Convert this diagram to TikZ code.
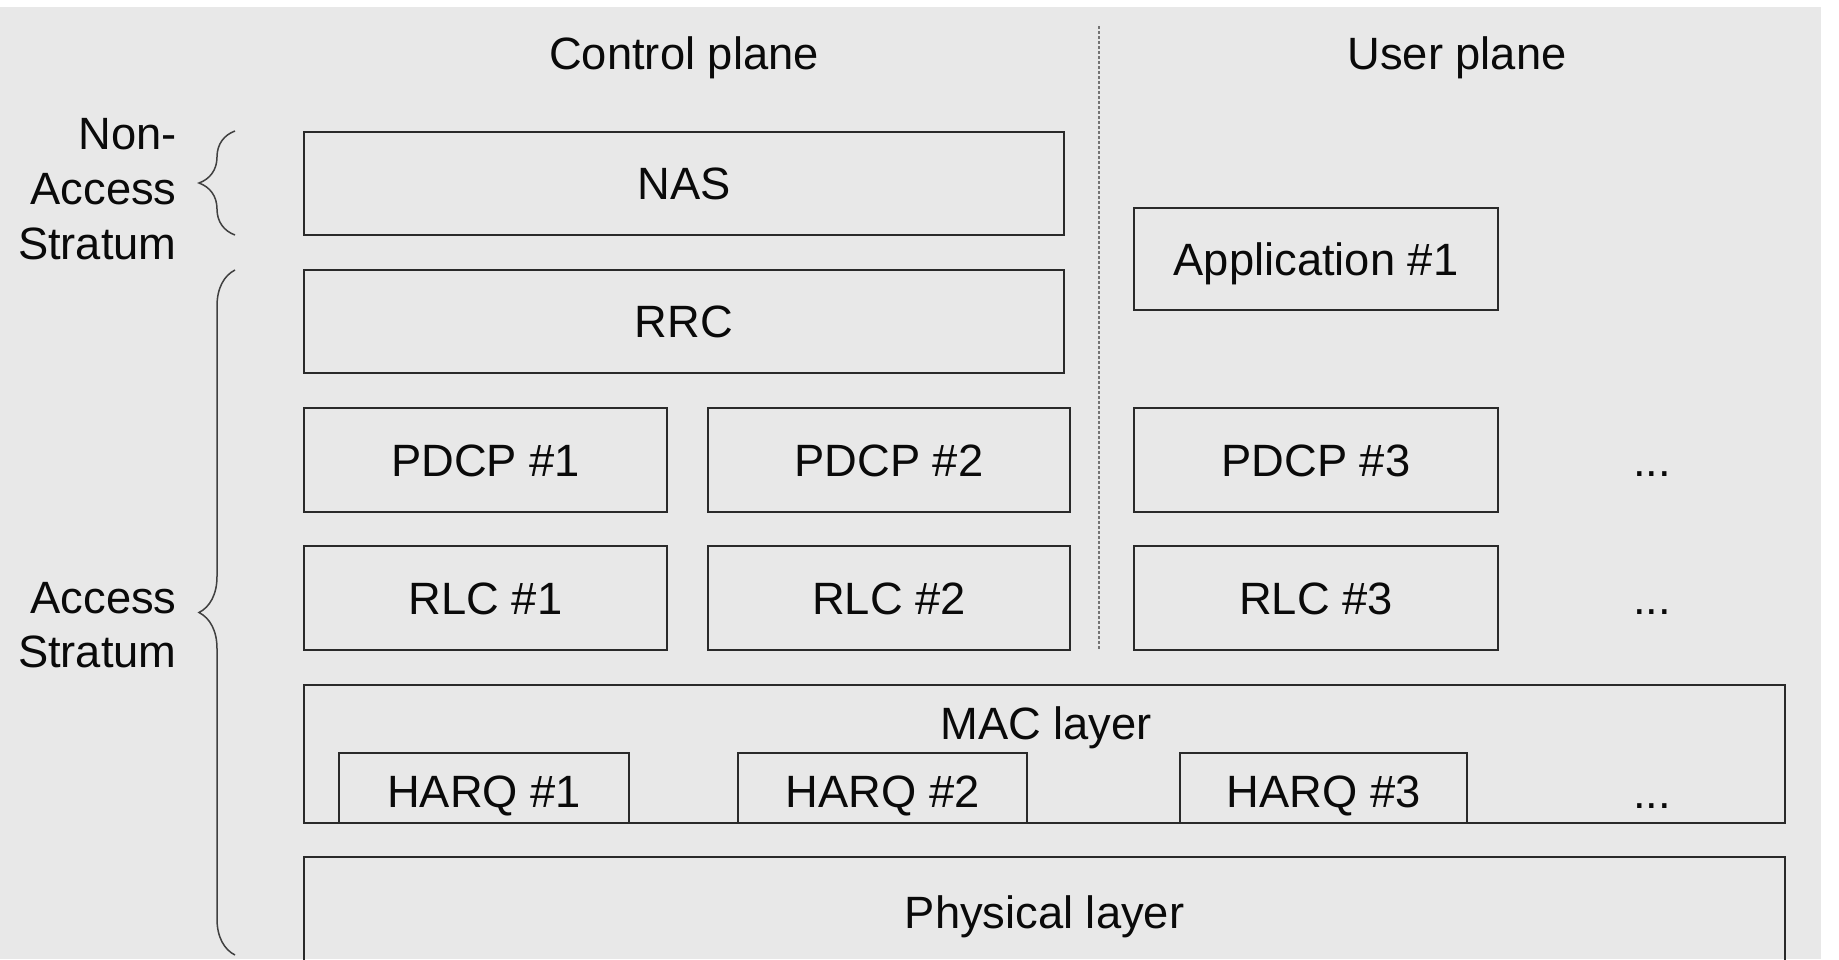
\documentclass[tikz,border=0pt]{standalone}
\usepackage{fontspec}
\setmainfont{Liberation Sans}
\usetikzlibrary{decorations.pathreplacing}
\newcommand\diafont{\fontsize{22.65}{27.5}\selectfont}
\definecolor{bggrey}{HTML}{E8E8E8}
\definecolor{linecol}{HTML}{2A2A2A}
\definecolor{txtcol}{HTML}{0A0A0A}
\begin{document}
\begin{tikzpicture}[x=0.5pt,y=-0.5pt,
  box/.style={draw=linecol, line width=1.1pt, inner sep=0pt, text height=16.2pt, text depth=0pt, font=\diafont, text=txtcol},
  harqbox/.style={box, text height=19.7pt},
  plain/.style={inner sep=0pt, text height=16.2pt, text depth=0pt, font=\diafont, text=txtcol},
  sidelabel/.style={inner sep=0pt, font=\diafont, text=txtcol, anchor=base east},
  dots/.style={inner sep=0pt, font=\diafont, text=txtcol, anchor=base},
  bracestyle/.style={draw=black!75, line width=0.75pt, decorate, decoration={brace, amplitude=18pt}},
  sepline/.style={draw=black!55, line width=0.8pt, dash pattern=on 1.5pt off 1pt}]
\useasboundingbox (0,0) rectangle (1839,959);
\clip (0,0) rectangle (1839,959);
\fill[white] (0,0) rectangle (1839,959);
\fill[bggrey] (0,7) rectangle (1821,959);

% titles
\node[plain] (cp) at (684,53) {Control plane};
\node[plain] (up) at (1457,53) {User plane};

% separator
\coordinate (septop) at (1099,26);
\coordinate (sepbot) at (1099,650);
\draw[sepline] (septop) -- (sepbot);

% boxes
\node[box, minimum width=380pt, minimum height=51.5pt] (nas) at (684,183.5) {NAS};
\node[box, minimum width=380pt, minimum height=51.5pt] (rrc) at (684,321.5) {RRC};
\node[box, minimum width=182pt, minimum height=51pt] (app) at (1316,259) {Application \#1};

\node[box, minimum width=181.5pt, minimum height=52pt] (pdcp1) at (485.5,460) {PDCP \#1};
\node[box, minimum width=181pt, minimum height=52pt] (pdcp2) at (889,460) {PDCP \#2};
\node[box, minimum width=182pt, minimum height=52pt] (pdcp3) at (1316,460) {PDCP \#3};

\node[box, minimum width=181.5pt, minimum height=52pt] (rlc1) at (485.5,598) {RLC \#1};
\node[box, minimum width=181pt, minimum height=52pt] (rlc2) at (889,598) {RLC \#2};
\node[box, minimum width=182pt, minimum height=52pt] (rlc3) at (1316,598) {RLC \#3};

\node[box, minimum width=740.5pt, minimum height=69pt] (mac) at (1044.5,754) {};
\node[plain] (maclabel) at (1046,723.6) {MAC layer};
\node[harqbox, minimum width=145pt, minimum height=35pt] (harq1) at (484,788) {HARQ \#1};
\node[harqbox, minimum width=144.5pt, minimum height=35pt] (harq2) at (882.5,788) {HARQ \#2};
\node[harqbox, minimum width=143.5pt, minimum height=35pt] (harq3) at (1323.5,788) {HARQ \#3};

\node[box, minimum width=740.5pt, minimum height=55pt] (phy) at (1044.5,912) {Physical layer};

% ellipses
\node[dots] (dots1) at (1652,476) {...};
\node[dots] (dots2) at (1652,614) {...};
\node[dots] (dots3) at (1652,808) {...};

% side labels
\node[sidelabel] (nas1) at (177,149) {Non-};
\node[sidelabel] (nas2) at (177,204) {Access};
\node[sidelabel] (nas3) at (177,259) {Stratum};
\node[sidelabel] (as1) at (177,613) {Access};
\node[sidelabel] (as2) at (177,667) {Stratum};

% braces
\coordinate (nasbot) at (235,235);
\coordinate (nastop) at (235,131);
\coordinate (asbot) at (235,955);
\coordinate (astop) at (235,270);
\draw[bracestyle] (nasbot) -- (nastop);
\draw[bracestyle] (asbot) -- (astop);
\end{tikzpicture}
\end{document}
